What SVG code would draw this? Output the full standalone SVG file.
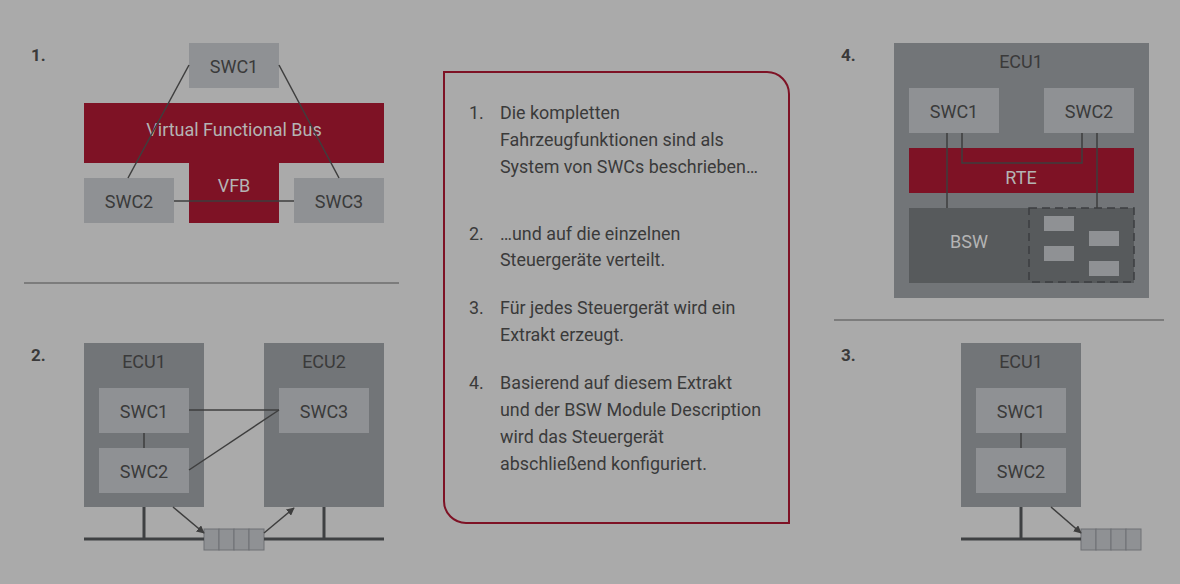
<svg xmlns="http://www.w3.org/2000/svg" width="1180" height="584" viewBox="0 0 1180 584">
<defs>
<style>
.swc{fill:#8f9194}
.ecu{fill:#727578}
.red{fill:#7e1225}
.bsw{fill:#575a5c}
.lbl{font-family:Roboto,"Liberation Sans",sans-serif;font-size:18px;fill:#3a3a3a;text-anchor:middle;dominant-baseline:central}
.lt{font-family:Roboto,"Liberation Sans",sans-serif;font-size:18px;fill:#b4b4b4;text-anchor:middle;dominant-baseline:central}
.num{font-family:Roboto,"Liberation Sans",sans-serif;font-size:17px;font-weight:bold;fill:#3a3a3a}
.txt{font-family:Roboto,"Liberation Sans",sans-serif;font-size:17.9px;fill:#3a3a3a}
.ln{stroke:#3e3e3e;stroke-width:1.5;fill:none}
.bus{stroke:#3e4042;stroke-width:3;fill:none}
.q{fill:#8f9194;stroke:#6e7174;stroke-width:1}
.sep{stroke:#6c6c6c;stroke-width:1.5}
</style>
<marker id="ah" viewBox="0 0 10 10" refX="9" refY="5" markerWidth="8" markerHeight="8" orient="auto" markerUnits="userSpaceOnUse">
<path d="M0,0 L10,5 L0,10 z" fill="#3e3e3e"/>
</marker>
</defs>
<rect width="1180" height="584" fill="#aaaaaa"/>

<!-- labels -->
<text class="num" x="31" y="61">1.</text>
<text class="num" x="31" y="361">2.</text>
<text class="num" x="841" y="61">4.</text>
<text class="num" x="841" y="361">3.</text>
<line class="sep" x1="24" y1="283" x2="399" y2="283"/>
<line class="sep" x1="834" y1="320" x2="1164" y2="320"/>

<!-- Panel 1 -->
<g id="vfb">
<rect class="red" x="84" y="103" width="300" height="60"/>
<rect class="red" x="189" y="162" width="90" height="61"/>
<text class="lt" x="234" y="129">Virtual Functional Bus</text>
<text class="lt" x="234" y="185">VFB</text>
</g>
<g id="p1-swc1"><rect class="swc" x="189" y="43" width="90" height="45"/><text class="lbl" x="234" y="66">SWC1</text></g>
<g id="p1-swc2"><rect class="swc" x="84" y="178" width="90" height="45"/><text class="lbl" x="129" y="201">SWC2</text></g>
<g id="p1-swc3"><rect class="swc" x="294" y="178" width="90" height="45"/><text class="lbl" x="339" y="201">SWC3</text></g>

<!-- Panel 2 -->
<g id="p2-ecu1"><rect class="ecu" x="84" y="343" width="120" height="164"/><text class="lbl" x="144" y="361">ECU1</text></g>
<g id="p2-ecu2"><rect class="ecu" x="264" y="343" width="120" height="164"/><text class="lbl" x="324" y="361">ECU2</text></g>
<g id="p2-swc1"><rect class="swc" x="99" y="388" width="90" height="45"/><text class="lbl" x="144" y="411">SWC1</text></g>
<g id="p2-swc2"><rect class="swc" x="99" y="448" width="90" height="45"/><text class="lbl" x="144" y="471">SWC2</text></g>
<g id="p2-swc3"><rect class="swc" x="279" y="388" width="90" height="45"/><text class="lbl" x="324" y="411">SWC3</text></g>
<g id="p2-queue">
<rect class="q" x="204" y="529" width="15" height="21"/><rect class="q" x="219" y="529" width="15" height="21"/><rect class="q" x="234" y="529" width="15" height="21"/><rect class="q" x="249" y="529" width="15" height="21"/>
</g>

<!-- Center text -->
<g id="textbox">
<path d="M444,72 H767 A22,22 0 0 1 789,94 V523 H466 A22,22 0 0 1 444,501 Z" fill="none" stroke="#7e1225" stroke-width="2"/>
<text class="txt" x="469" y="119">1.</text>
<text class="txt" x="500" y="119">Die kompletten</text>
<text class="txt" x="500" y="146">Fahrzeugfunktionen sind als</text>
<text class="txt" x="500" y="173">System von SWCs beschrieben…</text>
<text class="txt" x="469" y="240">2.</text>
<text class="txt" x="500" y="240">…und auf die einzelnen</text>
<text class="txt" x="500" y="266">Steuergeräte verteilt.</text>
<text class="txt" x="469" y="314">3.</text>
<text class="txt" x="500" y="314">Für jedes Steuergerät wird ein</text>
<text class="txt" x="500" y="341">Extrakt erzeugt.</text>
<text class="txt" x="469" y="389">4.</text>
<text class="txt" x="500" y="389">Basierend auf diesem Extrakt</text>
<text class="txt" x="500" y="416">und der BSW Module Description</text>
<text class="txt" x="500" y="443">wird das Steuergerät</text>
<text class="txt" x="500" y="470">abschließend konfiguriert.</text>
</g>

<!-- Panel 4 -->
<g id="p4-ecu1"><rect class="ecu" x="894" y="43" width="255" height="255"/><text class="lbl" x="1021" y="61">ECU1</text></g>
<g id="p4-swc1"><rect class="swc" x="909" y="88" width="90" height="45"/><text class="lbl" x="954" y="111">SWC1</text></g>
<g id="p4-swc2"><rect class="swc" x="1044" y="88" width="90" height="45"/><text class="lbl" x="1089" y="111">SWC2</text></g>
<g id="p4-rte"><rect class="red" x="909" y="148" width="225" height="45"/><text class="lt" x="1021" y="177">RTE</text></g>
<g id="p4-bsw">
<rect class="bsw" x="909" y="208" width="225" height="75"/>
<text class="lt" x="969" y="241">BSW</text>
<rect x="1029" y="208" width="105" height="74" fill="none" stroke="#3c3e40" stroke-width="1.5" stroke-dasharray="8,5"/>
<rect class="swc" x="1044" y="216" width="30" height="15"/>
<rect class="swc" x="1044" y="246" width="30" height="15"/>
<rect class="swc" x="1089" y="231" width="30" height="15"/>
<rect class="swc" x="1089" y="261" width="30" height="15"/>
</g>

<!-- Panel 3 -->
<g id="p3-ecu1"><rect class="ecu" x="961" y="343" width="120" height="164"/><text class="lbl" x="1021" y="361">ECU1</text></g>
<g id="p3-swc1"><rect class="swc" x="976" y="388" width="90" height="45"/><text class="lbl" x="1021" y="411">SWC1</text></g>
<g id="p3-swc2"><rect class="swc" x="976" y="448" width="90" height="45"/><text class="lbl" x="1021" y="471">SWC2</text></g>
<g id="p3-queue">
<rect class="q" x="1081" y="529" width="15" height="21"/><rect class="q" x="1096" y="529" width="15" height="21"/><rect class="q" x="1111" y="529" width="15" height="21"/><rect class="q" x="1126" y="529" width="15" height="21"/>
</g>

<!-- connectors -->
<g id="connectors">
<line class="ln" x1="189" y1="65" x2="128" y2="178"/>
<line class="ln" x1="279" y1="65" x2="339" y2="178"/>
<line class="ln" x1="174" y1="201" x2="294" y2="201"/>

<line class="ln" x1="144" y1="433" x2="144" y2="448"/>
<line class="ln" x1="189" y1="410" x2="279" y2="410"/>
<line class="ln" x1="189" y1="470" x2="279" y2="410"/>
<line class="bus" x1="84" y1="539" x2="204" y2="539"/>
<line class="bus" x1="264" y1="539" x2="384" y2="539"/>
<line class="bus" x1="144" y1="507" x2="144" y2="539"/>
<line class="bus" x1="324" y1="507" x2="324" y2="539"/>
<line class="ln" x1="173" y1="507" x2="204" y2="533" marker-end="url(#ah)"/>
<line class="ln" x1="264" y1="533" x2="294" y2="508" marker-end="url(#ah)"/>

<line class="ln" x1="947" y1="133" x2="947" y2="208"/>
<polyline class="ln" points="962,133 962,163 1082,163 1082,133"/>
<line class="ln" x1="1097" y1="133" x2="1097" y2="208"/>

<line class="ln" x1="1021" y1="433" x2="1021" y2="448"/>
<line class="bus" x1="961" y1="539" x2="1081" y2="539"/>
<line class="bus" x1="1021" y1="507" x2="1021" y2="539"/>
<line class="ln" x1="1051" y1="507" x2="1081" y2="533" marker-end="url(#ah)"/>
</g>
</svg>
